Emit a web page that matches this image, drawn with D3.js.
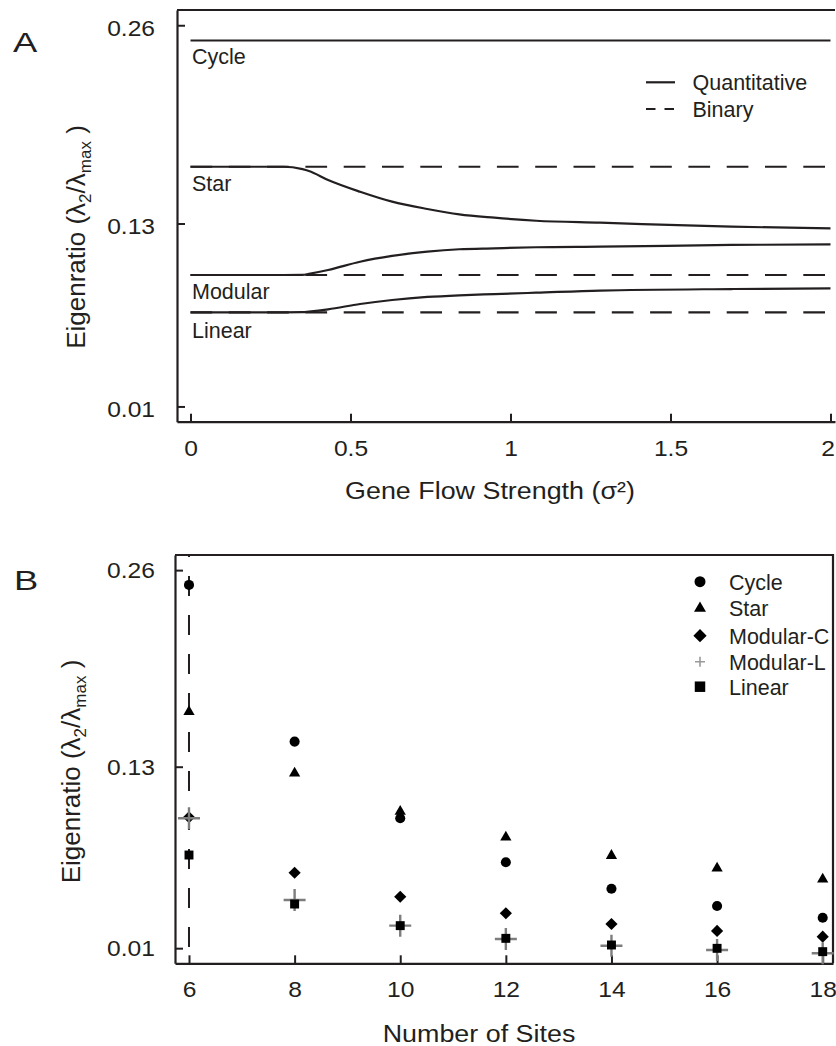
<!DOCTYPE html>
<html><head><meta charset="utf-8">
<script src="https://cdn.jsdelivr.net/npm/d3@7"></script>
<style>
body{margin:0;background:#fff;}
text{font-family:"Liberation Sans", Arial, Helvetica, sans-serif; fill:#231f20;}
</style></head><body>
<svg id="chart" width="836" height="1046"></svg>
<script>
// ---------- Panel A data ----------
const sigmaGrid    = [0, 0.29, 0.35, 0.37, 0.43, 0.53, 0.63, 0.74, 0.84, 0.95, 1.08, 1.28, 1.69, 2.0];
const cycleQuant   = [0.25, 0.25, 0.25, 0.25, 0.25, 0.25, 0.25, 0.25, 0.25, 0.25, 0.25, 0.25, 0.25, 0.25];
const starQuant    = [0.1672, 0.1672, 0.1656, 0.1644, 0.1585, 0.1508, 0.1443, 0.1395, 0.1360, 0.1338, 0.1318, 0.1305, 0.1279, 0.1268];
const modularQuant = [0.0962, 0.0962, 0.0963, 0.0970, 0.0995, 0.1049, 0.1087, 0.1115, 0.1131, 0.1137, 0.1144, 0.1148, 0.1159, 0.1163];
const linearQuant  = [0.0717, 0.0717, 0.0718, 0.0722, 0.0737, 0.0772, 0.0798, 0.0818, 0.0829, 0.0837, 0.0846, 0.0860, 0.0870, 0.0874];
const binaryX       = [0, 2];
const starBinary    = [0.1672, 0.1672];
const modularBinary = [0.0962, 0.0962];
const linearBinary  = [0.0717, 0.0717];
const seriesLabelsA = ["Cycle", "Star", "Modular", "Linear"];
const xTicksA = [0, 0.5, 1, 1.5, 2];
const yTicks  = [0.01, 0.13, 0.26];

// ---------- Panel B data ----------
const sites     = [6, 8, 10, 12, 14, 16, 18];
const cycleB    = [0.2502, 0.1466, 0.0959, 0.0668, 0.0493, 0.0379, 0.0301];
const starB     = [0.1664, 0.1257, 0.1004, 0.0833, 0.0712, 0.0628, 0.0556];
const modularCB = [0.0966, 0.0599, 0.0440, 0.0331, 0.0260, 0.0214, 0.0176];
const modularLB = [0.0959, 0.0419, 0.0249, 0.0161, 0.0116, 0.0088, 0.0066];
const linearB   = [0.0716, 0.0392, 0.0249, 0.0165, 0.0121, 0.0099, 0.0077];
const legendB   = ["Cycle", "Star", "Modular-C", "Modular-L", "Linear"];
const xTicksB   = [6, 8, 10, 12, 14, 16, 18];

const INK = "#231f20";
const svg = d3.select("#chart");

function txt(g, x, y, str, size, anchor, sx) {
  return g.append("text")
    .attr("transform", `translate(${x},${y}) scale(${sx || 1},1)`)
    .attr("font-size", size)
    .attr("text-anchor", anchor || "start")
    .text(str);
}

function yTitle(g, x, y) {
  const t = g.append("text")
    .attr("transform", `translate(${x},${y}) rotate(-90)`)
    .attr("font-size", 26).attr("text-anchor", "middle");
  t.append("tspan").text("Eigenratio (λ");
  t.append("tspan").attr("font-size", 17).attr("dy", 6).text("2");
  t.append("tspan").attr("dy", -6).text("/λ");
  t.append("tspan").attr("font-size", 17).attr("dy", 6).text("max");
  t.append("tspan").attr("dy", -6).text(" )");
}

function styleAxis(g) {
  g.attr("color", INK);
  g.selectAll("path.domain").attr("stroke-width", 2.2);
  g.selectAll(".tick line").attr("stroke-width", 2);
  g.selectAll(".tick text")
    .attr("font-size", 22)
    .attr("font-family", '"Liberation Sans", Arial, sans-serif')
    .attr("fill", INK);
}

// ================= PANEL A =================
const A = { left: 177, right: 835, top: 10, bottom: 421.7 };
const xA = d3.scaleLinear().domain([-0.0422, 2.0141]).range([A.left, A.right]);
const yA = d3.scaleLinear().domain([0, 0.27]).range([A.bottom, A.top]);
const gA = svg.append("g");

const lineA = d3.line().x(d => xA(d[0])).y(d => yA(d[1])).curve(d3.curveMonotoneX);

// binary (dashed)
[starBinary, modularBinary, linearBinary].forEach(vals => {
  gA.append("path")
    .attr("d", lineA(binaryX.map((s, i) => [s, vals[i]])))
    .attr("fill", "none").attr("stroke", INK).attr("stroke-width", 2.2)
    .attr("stroke-dasharray", "21.7,16.6");
});
// quantitative (solid)
[cycleQuant, starQuant, modularQuant, linearQuant].forEach(vals => {
  gA.append("path")
    .attr("d", lineA(sigmaGrid.map((s, i) => [s, vals[i]])))
    .attr("fill", "none").attr("stroke", INK).attr("stroke-width", 2.2);
});

// axes A
const axYA = gA.append("g").attr("transform", `translate(${A.left},0)`)
  .call(d3.axisLeft(yA).tickValues(yTicks).tickSize(-8).tickSizeOuter(0).tickPadding(19.6).tickFormat(d3.format(".2f")));
styleAxis(axYA);
axYA.selectAll(".tick text").attr("dy", "0.45em").attr("transform", "scale(1.12,1)");

const axXA = gA.append("g").attr("transform", `translate(0,${A.bottom})`)
  .call(d3.axisBottom(xA).tickValues(xTicksA).tickSize(-8).tickSizeOuter(0).tickPadding(18.4).tickFormat(d => String(d)));
styleAxis(axXA);
axXA.selectAll(".tick text")
  .attr("x", d => d === 2 ? -2.5 : 0)
  .attr("transform", "scale(1.12,1)");

gA.append("line").attr("x1", A.left).attr("x2", A.right).attr("y1", A.top).attr("y2", A.top)
  .attr("stroke", INK).attr("stroke-width", 2.2);

// series labels A
const labelPosA = [cycleQuant[0], starQuant[0], modularQuant[0], linearQuant[0]];
const labelOffA = [23.5, 24.5, 23.5, 25.5];
seriesLabelsA.forEach((s, i) => txt(gA, 192, yA(labelPosA[i]) + labelOffA[i], s, 21.5, "start"));

// legend A
gA.append("line").attr("x1", 646).attr("x2", 675).attr("y1", 82.3).attr("y2", 82.3)
  .attr("stroke", INK).attr("stroke-width", 2.2);
gA.append("line").attr("x1", 646).attr("x2", 675).attr("y1", 109).attr("y2", 109)
  .attr("stroke", INK).attr("stroke-width", 2.2).attr("stroke-dasharray", "9.5,9");
txt(gA, 692.5, 90, "Quantitative", 21.5, "start");
txt(gA, 692.5, 117, "Binary", 21.5, "start");

// titles A
txt(gA, 490, 499, "Gene Flow Strength (σ²)", 24, "middle", 1.12);
yTitle(gA, 85, 237);
txt(gA, 13, 51.7, "A", 28, "start", 1.3);

// ================= PANEL B =================
const B = { left: 175, right: 833, top: 555, bottom: 963.3 };
const xB = d3.scaleLinear().domain([5.735, 18.195]).range([B.left, B.right]);
const yB = d3.scaleLinear().domain([0, 0.27]).range([B.bottom, B.top]);
const gB = svg.append("g");

// dashed vertical at first site
gB.append("line").attr("x1", xB(sites[0])).attr("x2", xB(sites[0]))
  .attr("y1", B.top).attr("y2", B.bottom)
  .attr("stroke", INK).attr("stroke-width", 2).attr("stroke-dasharray", "20,19").attr("stroke-dashoffset", 18);

// axes B
const axYB = gB.append("g").attr("transform", `translate(${B.left},0)`)
  .call(d3.axisLeft(yB).tickValues(yTicks).tickSize(-8).tickSizeOuter(0).tickPadding(17.9).tickFormat(d3.format(".2f")));
styleAxis(axYB);
axYB.selectAll(".tick text").attr("dy", "0.34em").attr("transform", "scale(1.12,1)");

const axXB = gB.append("g").attr("transform", `translate(0,${B.bottom})`)
  .call(d3.axisBottom(xB).tickValues(xTicksB).tickSize(-8).tickSizeOuter(0).tickPadding(17.8).tickFormat(d => String(d)));
styleAxis(axXB);
axXB.selectAll(".tick text").attr("transform", "scale(1.12,1)");

gB.append("path")
  .attr("d", `M${B.left},${B.top}H${B.right}V${B.bottom}`)
  .attr("fill", "none").attr("stroke", INK).attr("stroke-width", 2.2);

// markers
const sym = (type, size) => d3.symbol().type(type).size(size)();
const plusPath = h => `M${-h},0H${h}M0,${-h}V${h}`;
const GREY = "#7d7d7d";

function drawMarker(g, kind, x, y, legend) {
  if (kind === 0) g.append("path").attr("d", sym(d3.symbolCircle, legend ? 95 : 80)).attr("transform", `translate(${x},${y})`).attr("fill", "#000");
  if (kind === 1) g.append("path").attr("d", sym(d3.symbolTriangle, legend ? 62 : 55)).attr("transform", `translate(${x},${y})`).attr("fill", "#000");
  if (kind === 2) g.append("path").attr("d", sym(d3.symbolSquare, legend ? 88 : 74)).attr("transform", `translate(${x},${y}) rotate(45)`).attr("fill", "#000");
  if (kind === 3) g.append("path").attr("d", plusPath(legend ? 5 : 11)).attr("transform", `translate(${x},${y})`)
      .attr("stroke", legend ? "#9a9a9a" : GREY).attr("stroke-width", legend ? 1.6 : 2.4).attr("fill", "none");
  if (kind === 4) g.append("path").attr("d", sym(d3.symbolSquare, legend ? 110 : 80)).attr("transform", `translate(${x},${y})`).attr("fill", "#000");
}

const seriesB = [cycleB, starB, modularCB, modularLB, linearB];
seriesB.forEach((vals, k) => {
  sites.forEach((s, i) => drawMarker(gB, k, xB(s), yB(vals[i]), false));
});

// legend B
const legY = [581.7, 608.3, 635.7, 661.7, 686.7];
legendB.forEach((name, k) => {
  drawMarker(gB, k, 700, legY[k], true);
  txt(gB, 729, legY[k] + 7.8, name, 21.5, "start");
});

// titles B
txt(gB, 479, 1041.5, "Number of Sites", 24, "middle", 1.12);
yTitle(gB, 80, 771.5);
txt(gB, 14, 590, "B", 28, "start", 1.3);
</script>
</body></html>
